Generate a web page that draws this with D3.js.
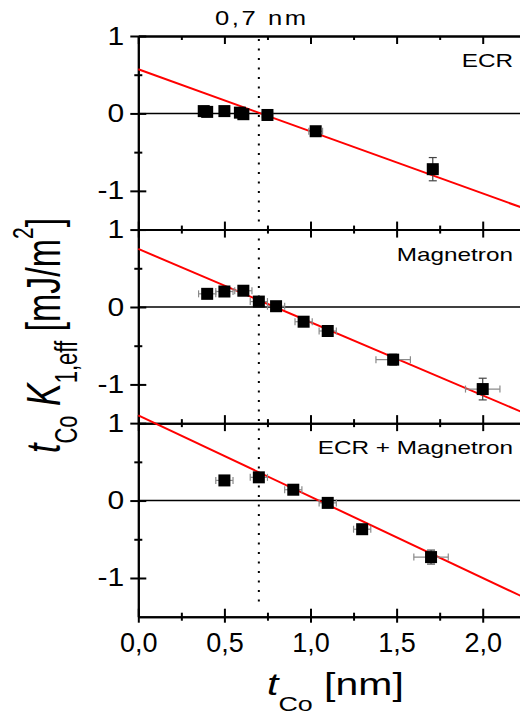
<!DOCTYPE html>
<html>
<head>
<meta charset="utf-8">
<script src="https://cdn.jsdelivr.net/npm/d3@7"></script>
<style>
  body { margin: 0; background: #fff; }
  svg { display: block; }
  text { white-space: pre; }
</style>
</head>
<body>
<svg id="chart"></svg>
<script>
// values
const panelTitles = ['ECR', 'Magnetron', 'ECR + Magnetron'];

const ecrThickness = [0.38, 0.40, 0.50, 0.59, 0.61, 0.75, 1.03, 1.71];
const ecrK = [0.03, 0.02, 0.03, 0.01, -0.01, -0.02, -0.23, -0.72];
const ecrThicknessErr = [0.02, 0.02, 0.02, 0.02, 0.02, 0.03, 0.04, 0.03];
const ecrKErr = [0.02, 0.02, 0.02, 0.03, 0.03, 0.03, 0.04, 0.15];

const magThickness = [0.40, 0.50, 0.61, 0.70, 0.80, 0.96, 1.10, 1.48, 2.00];
const magK = [0.17, 0.20, 0.21, 0.07, 0.01, -0.19, -0.31, -0.68, -1.06];
const magThicknessErr = [0.05, 0.05, 0.05, 0.05, 0.05, 0.05, 0.05, 0.10, 0.10];
const magKErr = [0.03, 0.03, 0.03, 0.03, 0.03, 0.03, 0.03, 0.07, 0.14];

const mixThickness = [0.50, 0.70, 0.90, 1.10, 1.30, 1.70];
const mixK = [0.26, 0.30, 0.14, -0.03, -0.37, -0.73];
const mixThicknessErr = [0.05, 0.05, 0.05, 0.05, 0.05, 0.10];
const mixKErr = [0.03, 0.03, 0.03, 0.03, 0.03, 0.09];

// linear fits, value at both ends of the x range
const fitThickness = [0, 2.22];
const ecrFit = [0.57, -1.21];
const magFit = [0.75, -1.35];
const mixFit = [1.10, -1.23];

const xTickValues = [0, 0.5, 1, 1.5, 2];
const xTickLabels = ['0,0', '0,5', '1,0', '1,5', '2,0'];
const xMinorTicks = [0.25, 0.75, 1.25, 1.75];
const yTickValues = [-1, 0, 1];
const yTickLabels = ['-1', '0', '1'];
const yMinorTicks = [-0.5, 0.5];
const criticalThickness = 0.7;
const criticalLabel = '0,7 nm';

class StackedPanels {
  constructor(config, panels) {
    this.config = {
      parentElement: config.parentElement,
      containerWidth: config.containerWidth ?? 520,
      containerHeight: config.containerHeight ?? 714,
      plotLeft: config.plotLeft ?? 138.3,
      plotRight: config.plotRight ?? 520.6,
      plotTop: config.plotTop ?? 36,
      plotBottom: config.plotBottom ?? 616.7,
      xDomain: config.xDomain ?? [0, 2.22],
      yDomain: config.yDomain ?? [-1.5, 1],
      stretch: config.stretch ?? 1.28,
      font: config.font ?? '"Liberation Sans", Arial, sans-serif'
    };
    this.panels = panels;
    this.initApp();
  }

  initApp() {
    const c = this.config;
    this.panelHeight = (c.plotBottom - c.plotTop) / this.panels.length;
    this.xScale = d3.scaleLinear().domain(c.xDomain).range([c.plotLeft, c.plotRight]);
    this.svg = d3.select(c.parentElement)
      .attr('width', c.containerWidth)
      .attr('height', c.containerHeight)
      .style('font-family', c.font);
    this.renderApp();
  }

  // make d3 tick lines run through the axis line (in and out)
  crossTicks(g, dir, size) {
    g.selectAll('.tick line').attr(dir, size);
    g.select('.domain').attr('stroke-width', 2);
    g.selectAll('.tick line').attr('stroke-width', 2);
  }

  renderApp() {
    const app = this;
    const c = app.config;
    const x = app.xScale;

    app.panels.forEach((p, i) => {
      const top = c.plotTop + i * app.panelHeight;
      const y = d3.scaleLinear().domain(c.yDomain).range([top + app.panelHeight, top]);
      const g = app.svg.append('g').attr('class', 'panel');

      // zero line
      g.append('line')
        .attr('x1', x(c.xDomain[0])).attr('x2', x(c.xDomain[1]))
        .attr('y1', y(0)).attr('y2', y(0))
        .attr('stroke', '#000').attr('stroke-width', 1.6);

      // left axis, major + minor
      const leftMajor = g.append('g')
        .attr('transform', `translate(${c.plotLeft},0)`)
        .call(d3.axisLeft(y).tickValues(yTickValues).tickSizeInner(8).tickSizeOuter(0).tickPadding(6)
          .tickFormat((d, k) => yTickLabels[k]));
      app.crossTicks(leftMajor, 'x1', 8);
      leftMajor.selectAll('text')
        .attr('font-size', 25).attr('font-family', c.font).attr('fill', '#000')
        .attr('transform', function () { return `translate(${d3.select(this).attr('x')},0) scale(1.2,1)`; })
        .attr('x', 0);
      const leftMinor = g.append('g')
        .attr('transform', `translate(${c.plotLeft},0)`)
        .call(d3.axisLeft(y).tickValues(yMinorTicks).tickSizeInner(4).tickSizeOuter(0).tickFormat(''));
      app.crossTicks(leftMinor, 'x1', 4);

      // bottom axis of panel (shared with next panel top)
      const last = i === app.panels.length - 1;
      const bottomMajor = g.append('g')
        .attr('transform', `translate(0,${y(c.yDomain[0])})`)
        .call(d3.axisBottom(x).tickValues(xTickValues).tickSizeInner(last ? 6 : 8).tickSizeOuter(0).tickPadding(10)
          .tickFormat((d, k) => last ? xTickLabels[k] : ''));
      app.crossTicks(bottomMajor, 'y1', -8);
      bottomMajor.selectAll('text')
        .attr('font-size', 27).attr('font-family', c.font).attr('fill', '#000');
      const bottomMinor = g.append('g')
        .attr('transform', `translate(0,${y(c.yDomain[0])})`)
        .call(d3.axisBottom(x).tickValues(xMinorTicks).tickSizeInner(4).tickSizeOuter(0).tickFormat(''));
      app.crossTicks(bottomMinor, 'y1', -4);

      if (i === 0) {
        const topMajor = g.append('g')
          .attr('transform', `translate(0,${top})`)
          .call(d3.axisTop(x).tickValues(xTickValues).tickSizeInner(-8).tickSizeOuter(0).tickFormat(''));
        app.crossTicks(topMajor, 'y1', 0);
        const topMinor = g.append('g')
          .attr('transform', `translate(0,${top})`)
          .call(d3.axisTop(x).tickValues(xMinorTicks).tickSizeInner(-4).tickSizeOuter(0).tickFormat(''));
        app.crossTicks(topMinor, 'y1', 0);
      }

      // fit line
      g.append('path')
        .datum(fitThickness.map((t, k) => [t, p.fit[k]]))
        .attr('d', d3.line().x(d => x(d[0])).y(d => y(d[1])))
        .attr('fill', 'none').attr('stroke', '#ff0000').attr('stroke-width', 2);

      const points = p.thickness.map((t, k) => ({ t, k: p.k[k], te: p.thicknessErr[k], ke: p.kErr[k] }));

      // error bars
      const err = g.append('g').selectAll('g').data(points).join('g');
      err.append('line')
        .attr('x1', d => x(d.t - d.te)).attr('x2', d => x(d.t + d.te))
        .attr('y1', d => y(d.k)).attr('y2', d => y(d.k))
        .attr('stroke', '#8a8a8a').attr('stroke-width', 1.2);
      [-1, 1].forEach(s => {
        err.append('line')
          .attr('x1', d => x(d.t + s * d.te)).attr('x2', d => x(d.t + s * d.te))
          .attr('y1', d => y(d.k) - 3.5).attr('y2', d => y(d.k) + 3.5)
          .attr('stroke', '#8a8a8a').attr('stroke-width', 1.2);
        err.append('line')
          .attr('x1', d => x(d.t) - 4).attr('x2', d => x(d.t) + 4)
          .attr('y1', d => y(d.k + s * d.ke)).attr('y2', d => y(d.k + s * d.ke))
          .attr('stroke', '#444').attr('stroke-width', 1.2);
      });
      err.append('line')
        .attr('x1', d => x(d.t)).attr('x2', d => x(d.t))
        .attr('y1', d => y(d.k - d.ke)).attr('y2', d => y(d.k + d.ke))
        .attr('stroke', '#444').attr('stroke-width', 1.2);

      // markers
      g.append('g').selectAll('rect').data(points).join('rect')
        .attr('x', d => x(d.t) - 6).attr('y', d => y(d.k) - 6)
        .attr('width', 12).attr('height', 12)
        .attr('fill', '#000');

      // panel title
      g.append('text')
        .attr('transform', `translate(513,${top + 31}) scale(${c.stretch},1)`)
        .attr('text-anchor', 'end')
        .attr('font-size', 19)
        .attr('fill', '#000')
        .text(p.title);
    });

    // dotted line at critical thickness
    app.svg.append('line')
      .attr('x1', x(criticalThickness)).attr('x2', x(criticalThickness))
      .attr('y1', c.plotTop + 3).attr('y2', c.plotBottom - 8)
      .attr('stroke', '#000').attr('stroke-width', 2)
      .attr('stroke-dasharray', '2,7.5');
    app.svg.append('text')
      .attr('transform', `translate(${x(criticalThickness) + 3},25) scale(${c.stretch},1)`)
      .attr('text-anchor', 'middle')
      .attr('font-size', 20)
      .attr('letter-spacing', 2)
      .text(criticalLabel);

    // x axis title
    const xt = app.svg.append('text')
      .attr('transform', `translate(267,695) scale(${c.stretch},1)`)
      .attr('font-size', 32);
    xt.append('tspan').attr('font-style', 'italic').text('t');
    xt.append('tspan').attr('font-size', 21).attr('dy', 16).text('Co');
    xt.append('tspan').attr('dy', -16).text(' [nm]');

    // y axis title
    const yt = app.svg.append('text')
      .attr('transform', 'translate(60,453) scale(1.4,1) rotate(-90)')
      .attr('font-size', 34);
    yt.append('tspan').attr('font-style', 'italic').text('t');
    yt.append('tspan').attr('font-size', 22).attr('dy', 12).text('Co');
    yt.append('tspan').attr('dy', -12).text(' ');
    yt.append('tspan').attr('font-style', 'italic').text('K');
    yt.append('tspan').attr('font-size', 22).attr('dy', 12).text('1,eff');
    yt.append('tspan').attr('dy', -12).text(' [mJ/m');
    yt.append('tspan').attr('font-size', 21).attr('dy', -19).text('2');
    yt.append('tspan').attr('dy', 19).text(']');
  }
}

const panels = [
  { title: panelTitles[0], thickness: ecrThickness, k: ecrK, thicknessErr: ecrThicknessErr, kErr: ecrKErr, fit: ecrFit },
  { title: panelTitles[1], thickness: magThickness, k: magK, thicknessErr: magThicknessErr, kErr: magKErr, fit: magFit },
  { title: panelTitles[2], thickness: mixThickness, k: mixK, thicknessErr: mixThicknessErr, kErr: mixKErr, fit: mixFit }
];

new StackedPanels({ parentElement: '#chart' }, panels);
</script>
</body>
</html>
